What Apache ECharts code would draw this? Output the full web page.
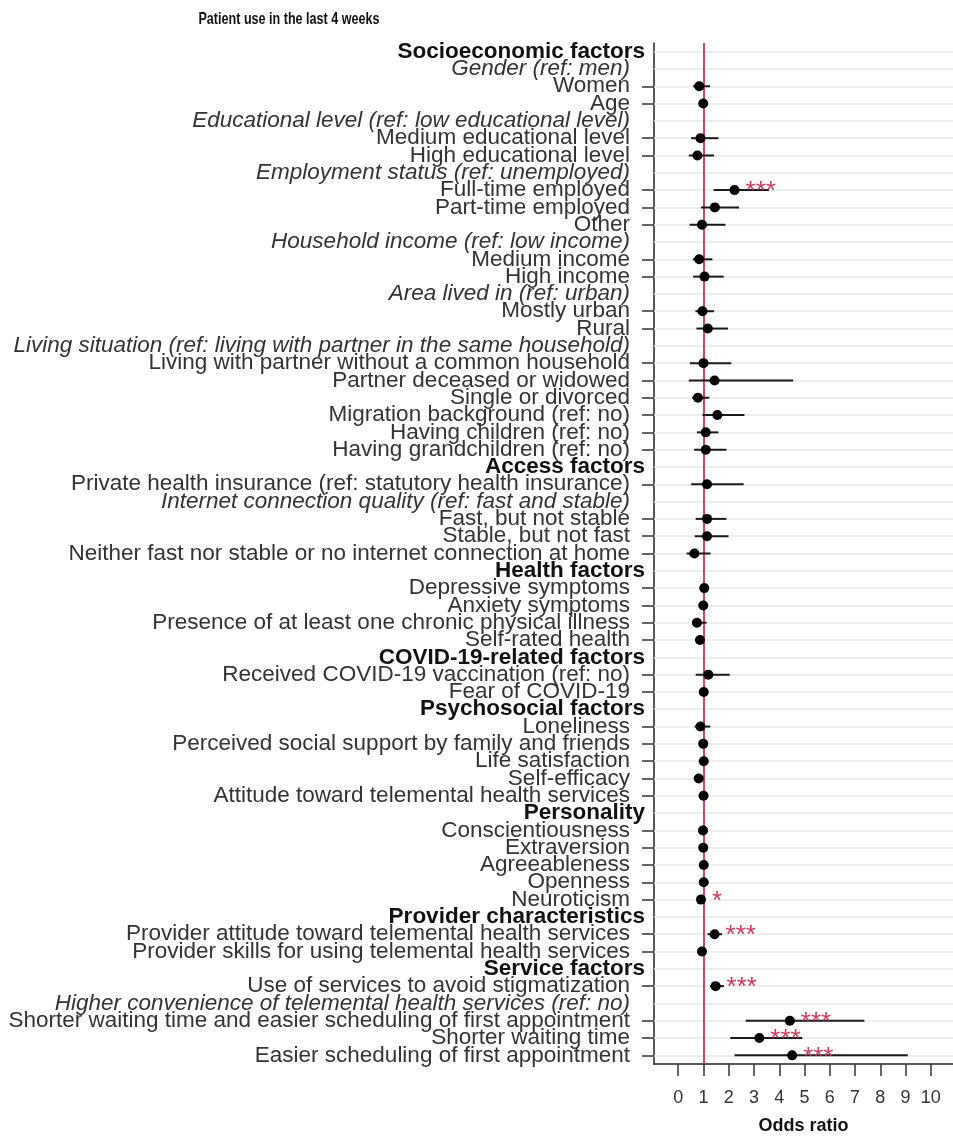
<!DOCTYPE html>
<html>
<head>
<meta charset="utf-8">
<title>Patient use in the last 4 weeks</title>
<script src="https://cdn.jsdelivr.net/npm/echarts@6/dist/echarts.min.js"></script>
<style>
  html, body { margin: 0; padding: 0; background: #ffffff; }
  #chart { width: 953px; height: 1140px; }
</style>
</head>
<body>
<div id="chart"></div>
<script>
// Row labels, top to bottom
const rowLabels = [
  'Socioeconomic factors',
  'Gender (ref: men)',
  'Women',
  'Age',
  'Educational level (ref: low educational level)',
  'Medium educational level',
  'High educational level',
  'Employment status (ref: unemployed)',
  'Full-time employed',
  'Part-time employed',
  'Other',
  'Household income (ref: low income)',
  'Medium income',
  'High income',
  'Area lived in (ref: urban)',
  'Mostly urban',
  'Rural',
  'Living situation (ref: living with partner in the same household)',
  'Living with partner without a common household',
  'Partner deceased or widowed',
  'Single or divorced',
  'Migration background (ref: no)',
  'Having children (ref: no)',
  'Having grandchildren (ref: no)',
  'Access factors',
  'Private health insurance (ref: statutory health insurance)',
  'Internet connection quality (ref: fast and stable)',
  'Fast, but not stable',
  'Stable, but not fast',
  'Neither fast nor stable or no internet connection at home',
  'Health factors',
  'Depressive symptoms',
  'Anxiety symptoms',
  'Presence of at least one chronic physical illness',
  'Self-rated health',
  'COVID-19-related factors',
  'Received COVID-19 vaccination (ref: no)',
  'Fear of COVID-19',
  'Psychosocial factors',
  'Loneliness',
  'Perceived social support by family and friends',
  'Life satisfaction',
  'Self-efficacy',
  'Attitude toward telemental health services',
  'Personality',
  'Conscientiousness',
  'Extraversion',
  'Agreeableness',
  'Openness',
  'Neuroticism',
  'Provider characteristics',
  'Provider attitude toward telemental health services',
  'Provider skills for using telemental health services',
  'Service factors',
  'Use of services to avoid stigmatization',
  'Higher convenience of telemental health services (ref: no)',
  'Shorter waiting time and easier scheduling of first appointment',
  'Shorter waiting time',
  'Easier scheduling of first appointment'
];

// Row kind: h = group heading (bold), r = reference note (italic), v = estimate row
const rowKinds = [
  'h','r','v','v','r','v','v','r','v','v','v','r','v','v','r','v','v','r','v','v','v','v','v','v',
  'h','v','r','v','v','v',
  'h','v','v','v','v',
  'h','v','v',
  'h','v','v','v','v','v',
  'h','v','v','v','v','v',
  'h','v','v',
  'h','v','r','v','v','v'
];

// Odds ratios (null for heading / reference rows)
const oddsRatio = [
  null, null, 0.83, 0.99, null, 0.88, 0.76, null, 2.23, 1.45, 0.94, null, 0.83, 1.04, null, 0.96, 1.17,
  null, 1.00, 1.44, 0.78, 1.55, 1.09, 1.09,
  null, 1.14, null, 1.14, 1.14, 0.64,
  null, 1.03, 0.99, 0.74, 0.86,
  null, 1.19, 1.01,
  null, 0.88, 0.99, 1.01, 0.81, 1.00,
  null, 0.98, 0.99, 1.01, 1.01, 0.90,
  null, 1.44, 0.94,
  null, 1.48, null, 4.42, 3.21, 4.51
];

// Lower 95% confidence limits
const ciLower = [
  null, null, 0.59, 0.97, null, 0.51, 0.42, null, 1.40, 0.90, 0.45, null, 0.58, 0.59, null, 0.68, 0.72,
  null, 0.46, 0.42, 0.55, 0.96, 0.74, 0.63,
  null, 0.51, null, 0.69, 0.65, 0.33,
  null, 0.99, 0.94, 0.58, 0.78,
  null, 0.69, 0.96,
  null, 0.65, 0.93, 0.95, 0.72, 0.95,
  null, 0.93, 0.94, 0.96, 0.96, 0.82,
  null, 1.16, 0.85,
  null, 1.26, null, 2.67, 2.06, 2.23
];

// Upper 95% confidence limits
const ciUpper = [
  null, null, 1.26, 1.01, null, 1.59, 1.42, null, 3.59, 2.41, 1.87, null, 1.35, 1.80, null, 1.42, 1.97,
  null, 2.10, 4.55, 1.23, 2.62, 1.59, 1.91,
  null, 2.59, null, 1.91, 1.99, 1.28,
  null, 1.07, 1.04, 1.12, 0.95,
  null, 2.04, 1.06,
  null, 1.27, 1.05, 1.07, 0.92, 1.05,
  null, 1.03, 1.04, 1.06, 1.06, 0.99,
  null, 1.74, 1.04,
  null, 1.81, null, 7.37, 4.91, 9.09
];

// Significance markers
const sigStars = [
  '', '', '', '', '', '', '', '', '***', '', '', '', '', '', '', '', '',
  '', '', '', '', '', '', '',
  '', '', '', '', '', '',
  '', '', '', '', '',
  '', '', '',
  '', '', '', '', '', '',
  '', '', '', '', '', '*',
  '', '***', '',
  '', '***', '', '***', '***', '***'
];

const xTickValues = [0, 1, 2, 3, 4, 5, 6, 7, 8, 9, 10];

const FONT = "'Liberation Sans', Arial, Helvetica, sans-serif";
const STAR_RED = '#c93a5e';

const estimateRows = [];
rowLabels.forEach((lab, i) => {
  if (oddsRatio[i] !== null) estimateRows.push(i);
});

const intervalData = estimateRows.map(i => [rowLabels[i], ciLower[i], ciUpper[i]]);
const pointData = estimateRows.map(i => ({
  value: [oddsRatio[i], rowLabels[i]],
  label: { show: sigStars[i] !== '', formatter: sigStars[i] }
}));

const chart = echarts.init(document.getElementById('chart'), null, { renderer: 'canvas' });

chart.setOption({
  animation: false,
  backgroundColor: '#ffffff',
  // condensed bold heading above the plot
  graphic: [{
    type: 'text',
    x: 289,
    y: 19,
    scaleX: 0.74,
    silent: true,
    style: {
      text: 'Patient use in the last 4 weeks',
      font: "bold 17px 'Liberation Sans', Arial, sans-serif",
      fill: '#111',
      align: 'center',
      verticalAlign: 'middle'
    }
  }],
  grid: { left: 654, right: -9, top: 43, bottom: 72, containLabel: false },
  xAxis: {
    type: 'value',
    min: -0.96,
    max: 10.88,
    name: 'Odds ratio',
    nameLocation: 'middle',
    nameGap: 53,
    nameTextStyle: { fontFamily: FONT, fontSize: 18, fontWeight: 'bold', color: '#111' },
    axisLine: { show: true, onZero: false, lineStyle: { color: '#222', width: 1.5 } },
    axisTick: { show: true, length: 12, customValues: xTickValues, lineStyle: { color: '#333', width: 1.5 } },
    axisLabel: {
      customValues: xTickValues,
      margin: 25,
      fontFamily: FONT,
      fontSize: 18,
      color: '#333'
    },
    splitLine: { show: false }
  },
  yAxis: {
    type: 'category',
    inverse: true,
    data: rowLabels,
    boundaryGap: true,
    axisLine: { show: true, onZero: false, lineStyle: { color: '#222', width: 1.5 } },
    axisTick: {
      show: true,
      alignWithLabel: true,
      length: 12,
      interval: (index) => rowKinds[index] === 'v',
      lineStyle: { color: '#333', width: 1.5 }
    },
    axisLabel: {
      interval: 0,
      margin: 9,
      formatter: (value, index) => '{' + rowKinds[index] + '|' + value + '}',
      rich: {
        h: { fontFamily: FONT, fontSize: 22.5, fontWeight: 'bold', color: '#111' },
        r: { fontFamily: FONT, fontSize: 22.5, fontStyle: 'italic', color: '#333', padding: [0, 15, 0, 0] },
        v: { fontFamily: FONT, fontSize: 22.5, color: '#333', padding: [0, 15, 0, 0] }
      }
    },
    splitLine: { show: false }
  },
  series: [
    {
      // horizontal guide lines, one per row
      type: 'scatter',
      data: [],
      z: 1,
      silent: true,
      markLine: {
        z: 1,
        silent: true,
        symbol: 'none',
        label: { show: false },
        lineStyle: { color: '#e9e9e9', width: 1.5, type: 'solid' },
        data: rowLabels.map(l => ({ yAxis: l }))
      }
    },
    {
      // reference line at odds ratio 1
      type: 'scatter',
      data: [],
      z: 2,
      silent: true,
      markLine: {
        z: 2,
        silent: true,
        symbol: 'none',
        label: { show: false },
        lineStyle: { color: '#cf2f58', width: 1.8, type: 'solid' },
        data: [{ xAxis: 1 }]
      }
    },
    {
      // confidence intervals
      type: 'custom',
      z: 10,
      encode: { y: 0, x: [1, 2] },
      data: intervalData,
      renderItem: (params, api) => {
        const a = api.coord([api.value(1), api.value(0)]);
        const b = api.coord([api.value(2), api.value(0)]);
        return {
          type: 'line',
          shape: { x1: a[0], y1: a[1], x2: b[0], y2: b[1] },
          style: { stroke: '#1a1a1a', lineWidth: 2 }
        };
      }
    },
    {
      // point estimates with significance markers
      type: 'scatter',
      z: 11,
      symbol: 'circle',
      symbolSize: 10,
      itemStyle: { color: '#000', opacity: 1 },
      data: pointData,
      label: {
        position: 'right',
        distance: 6,
        fontFamily: FONT,
        fontSize: 26,
        color: STAR_RED,
        offset: [0, 2]
      }
    }
  ]
});
</script>
</body>
</html>
